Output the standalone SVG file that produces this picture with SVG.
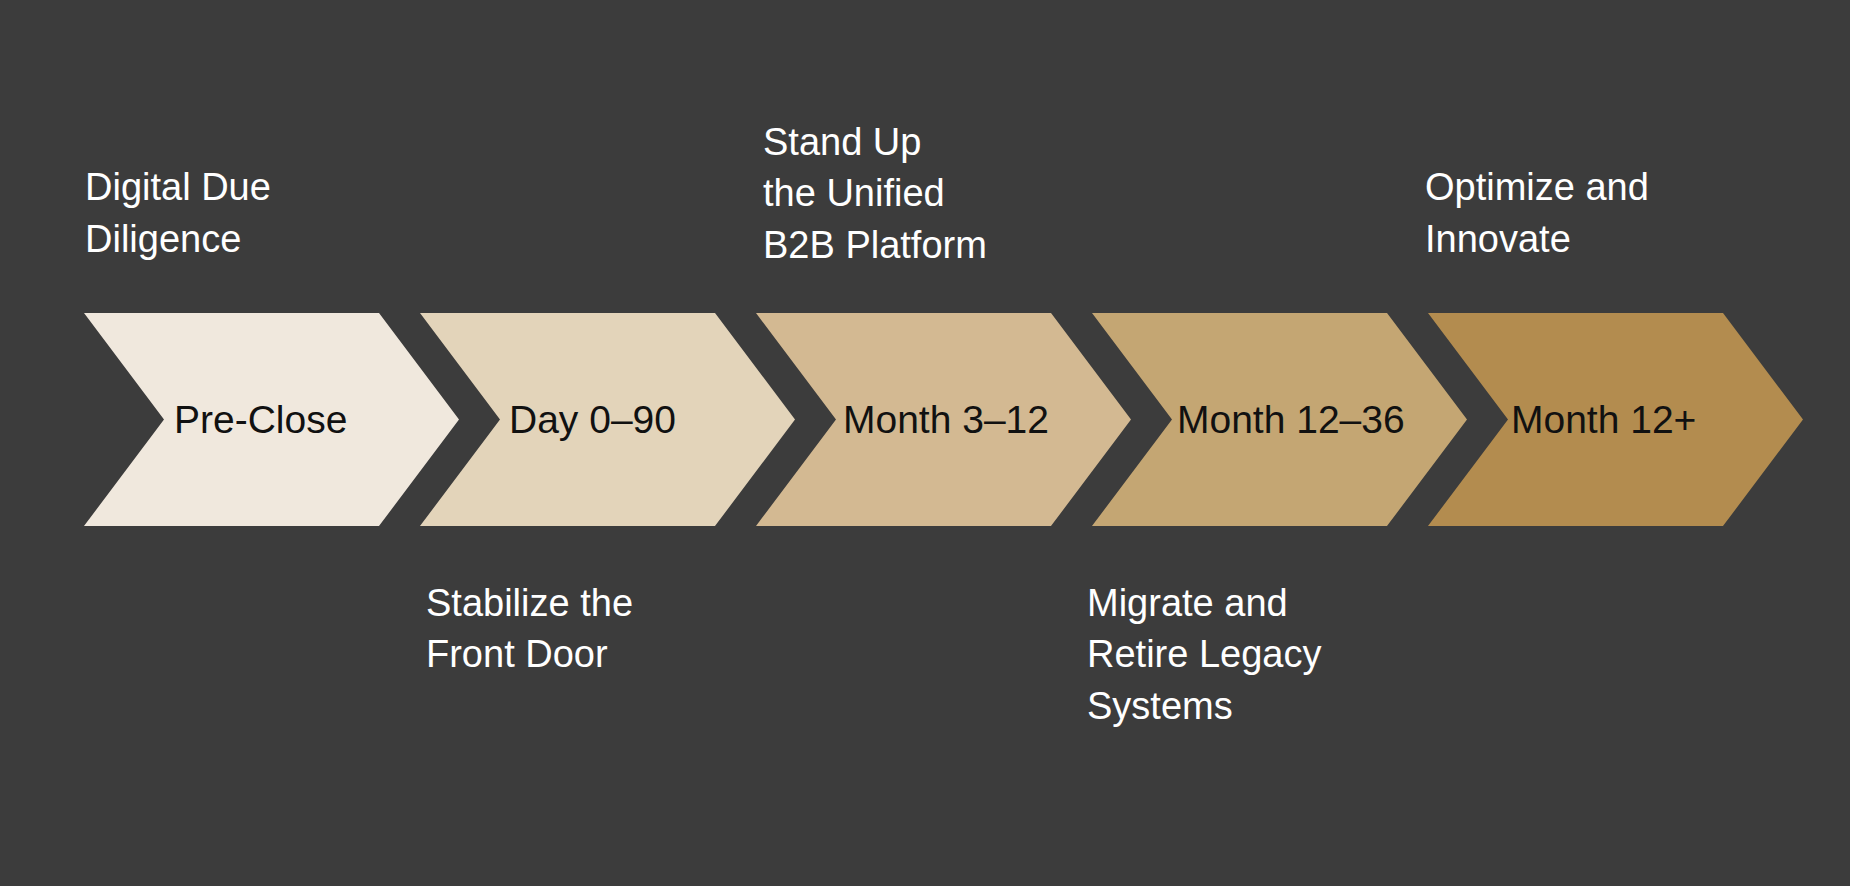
<svg xmlns="http://www.w3.org/2000/svg" width="1850" height="886" viewBox="0 0 1850 886">
<style>
.lbl{font-family:"Liberation Sans",Arial,sans-serif;font-size:39px;fill:#111}
.cap{font-family:"Liberation Sans",Arial,sans-serif;font-size:38px;fill:#fff}
</style>
<defs><path id="chev" d="M0,313 L295,313 L375,419.5 L295,526 L0,526 L80,419.5 Z"/></defs>
<rect width="1850" height="886" fill="#3c3c3c"/>
<g id="connectors"/>
<g id="n1"><use href="#chev" x="84" fill="#f0e8dd"/><text class="lbl" x="174" y="433">Pre-Close</text></g>
<g id="n2"><use href="#chev" x="420" fill="#e3d4ba"/><text class="lbl" x="509" y="433">Day 0–90</text></g>
<g id="n3"><use href="#chev" x="756" fill="#d3b992"/><text class="lbl" x="843" y="433">Month 3–12</text></g>
<g id="n4"><use href="#chev" x="1092" fill="#c4a673"/><text class="lbl" x="1177" y="433">Month 12–36</text></g>
<g id="n5"><use href="#chev" x="1428" fill="#b38c4f"/><text class="lbl" x="1511" y="433">Month 12+</text></g>
<g id="c1"><text class="cap" x="85" y="200">Digital Due</text><text class="cap" x="85" y="252">Diligence</text></g>
<g id="c2"><text class="cap" x="426" y="616">Stabilize the</text><text class="cap" x="426" y="667">Front Door</text></g>
<g id="c3"><text class="cap" x="763" y="155">Stand Up</text><text class="cap" x="763" y="206">the Unified</text><text class="cap" x="763" y="258">B2B Platform</text></g>
<g id="c4"><text class="cap" x="1087" y="616">Migrate and</text><text class="cap" x="1087" y="667">Retire Legacy</text><text class="cap" x="1087" y="719">Systems</text></g>
<g id="c5"><text class="cap" x="1425" y="200">Optimize and</text><text class="cap" x="1425" y="252">Innovate</text></g>
</svg>
